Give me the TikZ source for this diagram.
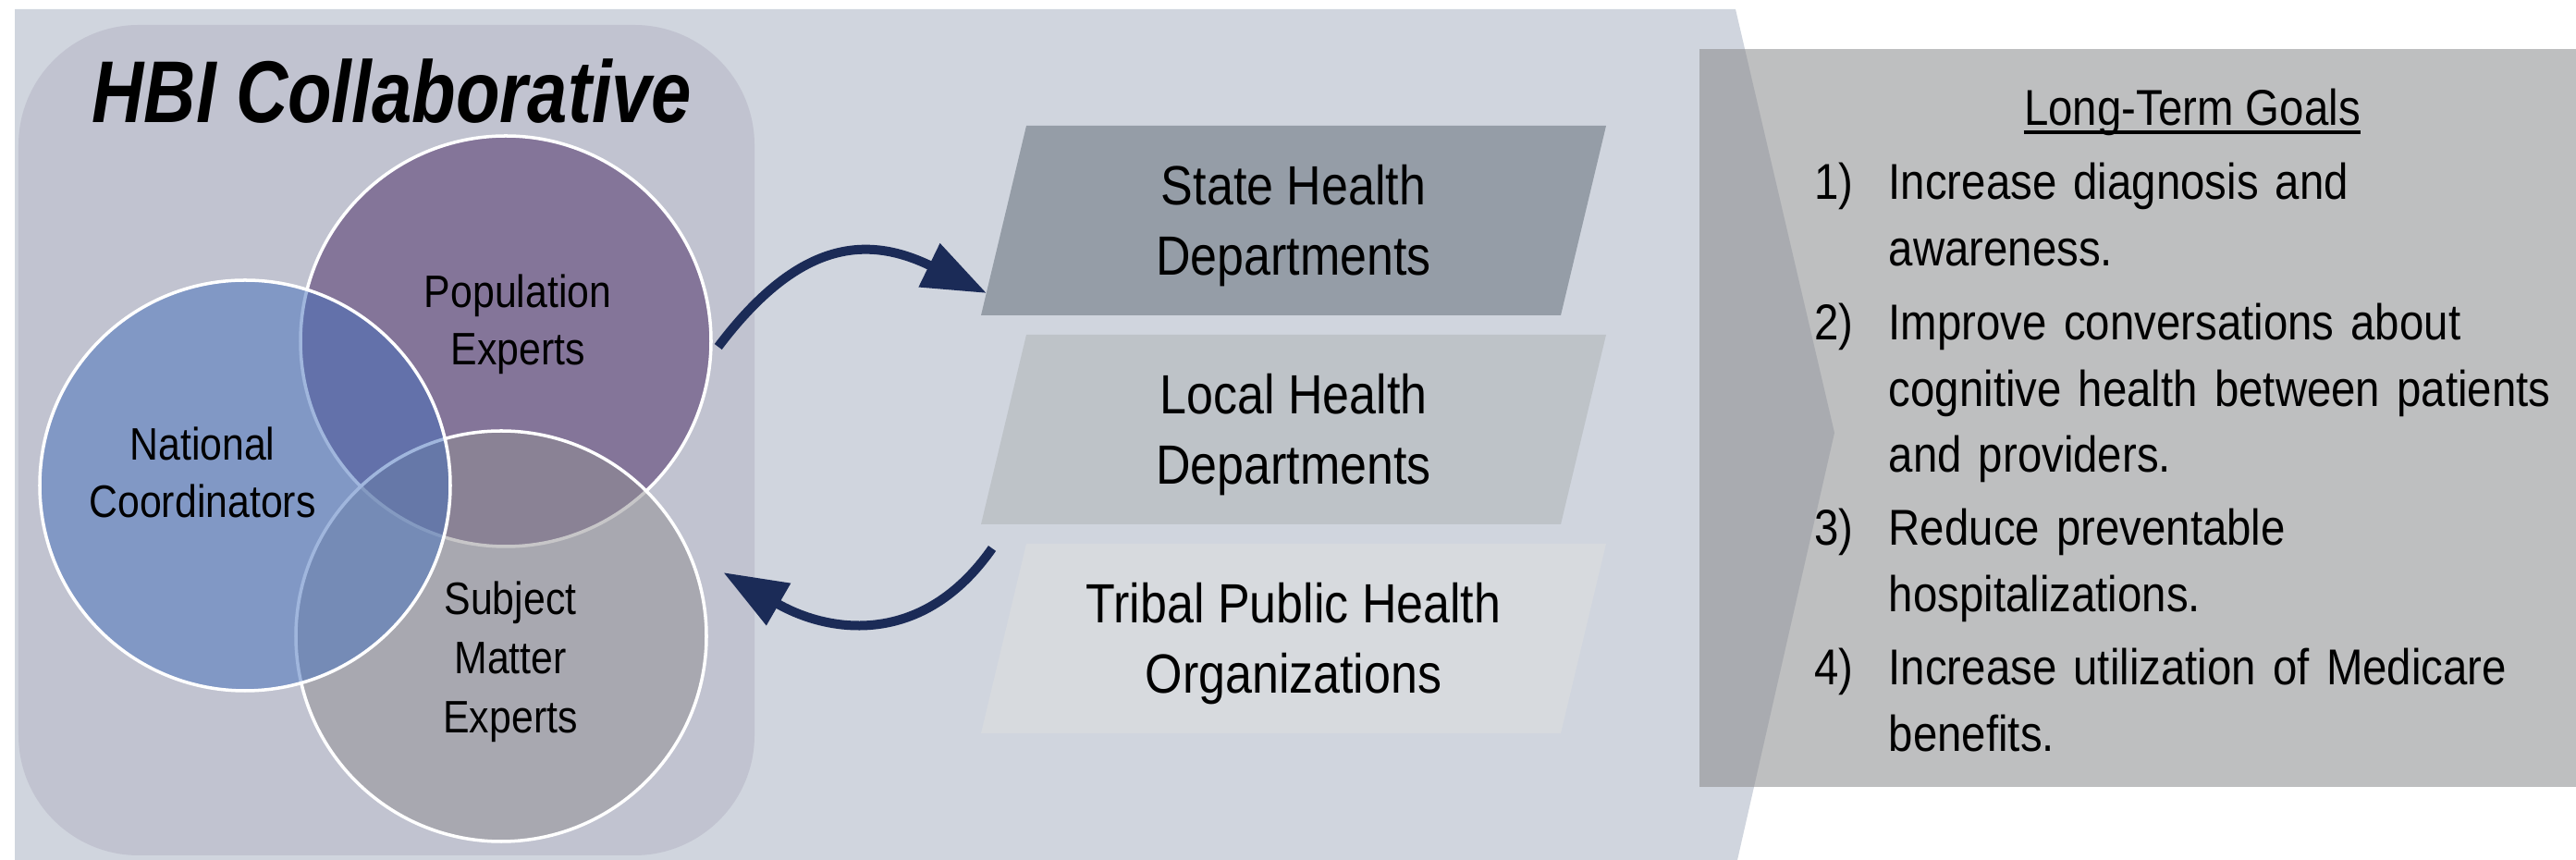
\documentclass[tikz,border=0pt]{standalone}
\usepackage{fontspec}
\setmainfont{Liberation Sans}[FakeStretch=0.87]
\newfontfamily\titlefont{Liberation Sans}[FakeStretch=0.82]
\usetikzlibrary{arrows.meta,calc}

\definecolor{bgblue}{RGB}{208,213,222}
\definecolor{hbibox}{RGB}{193,195,208}
\definecolor{popcol}{RGB}{73,41,100}
\definecolor{natcol}{RGB}{67,111,188}
\definecolor{smecol}{RGB}{145,143,146}
\definecolor{statecol}{RGB}{149,157,167}
\definecolor{localcol}{RGB}{190,195,200}
\definecolor{tribalcol}{RGB}{215,218,222}
\definecolor{goalcol}{RGB}{137,138,140}
\definecolor{navy}{RGB}{27,43,87}

% slanted department box: name, colour, y of centre, text
\newcommand{\agencybox}[4]{%
    \fill[#2] (10.61,#3-1.025) -- (16.88,#3-1.025) -- (17.37,#3+1.025) -- (11.10,#3+1.025) -- cycle;
    \node[agency] (#1) at (13.99,#3-0.06) {#4};}

\begin{document}
\begin{tikzpicture}[
    venn/.style={circle, minimum size=4.44cm, inner sep=0pt, draw=white, line width=1pt, fill opacity=0.5},
    venntext/.style={align=center, inner sep=0pt, font=\fontsize{14}{17.6}\selectfont},
    agency/.style={align=center, inner sep=0pt, font=\fontsize{17}{21.6}\selectfont},
    flow/.style={navy, line width=0.1cm, -{Triangle[length=0.69cm, width=0.5cm]}},
    goal/.style={anchor=base west, inner sep=0pt, text width=7.3cm, align=left,
        font=\fontsize{15.5}{20.3}\selectfont},
    goalnum/.style={anchor=base east, inner sep=0pt, font=\fontsize{15.5}{20.3}\selectfont}
]
    \useasboundingbox (0,0) rectangle (27.86,9.30);

    % Background chevron
    \fill[bgblue] (0.16,0) -- (0.16,9.20) -- (18.77,9.20) -- (19.84,4.62) -- (18.79,0) -- cycle;

    % Collaborative panel
    \fill[hbibox, rounded corners=1.3cm] (0.20,0.05) rectangle (8.16,9.03);
    \node[anchor=base, inner sep=0pt, font=\titlefont\bfseries\itshape\fontsize{27}{32}\selectfont]
        (hbi) at (4.24,7.97) {HBI Collaborative};

    % Venn circles
    \node[venn, fill=popcol] (pop) at (5.47,5.61) {};
    \node[venn, fill=smecol] (sme) at (5.42,2.42) {};
    \node[venn, fill=natcol] (nat) at (2.65,4.05) {};

    \node[venntext] (poptext) at (5.60,5.79) {Population\\Experts};
    \node[venntext] (nattext) at (2.19,4.19) {National\\Coordinators};
    \node[venntext, font=\fontsize{14}{18.2}\selectfont] (smetext) at (5.52,2.14) {Subject\\Matter\\Experts};

    % Health departments
    \agencybox{state}{statecol}{6.915}{State Health\\Departments}
    \agencybox{local}{localcol}{4.655}{Local Health\\Departments}
    \agencybox{tribal}{tribalcol}{2.395}{Tribal Public Health\\Organizations}

    % Arrows
    \draw[flow] ([shift={(0.06,-0.06)}]pop.east) to[out=53, in=154, looseness=1.25]
        ([shift={(-3.32,-0.725)}]state.center);
    \draw[flow] ([shift={(-3.26,-1.225)}]local.center) to[out=235, in=-30, looseness=1.15]
        ($(sme.center)+(16:2.5)$);

    % Long-term goals
    \fill[goalcol, opacity=0.55] (18.38,0.79) rectangle (27.86,8.77);
    \node[anchor=base, inner sep=0pt, font=\fontsize{15.5}{20.3}\selectfont]
        (goalhead) at (23.71,7.94) {Long-Term Goals};
    \draw[line width=0.9pt] ([yshift=-0.07cm]goalhead.base west) -- ([yshift=-0.07cm]goalhead.base east);

    \node[goalnum] (n1) at (20.05,7.14) {1)};
    \node[goal] (g1) at (20.42,7.14) {Increase diagnosis and\\awareness.};
    \node[goalnum] (n2) at (20.05,5.62) {2)};
    \node[goal] (g2) at (20.42,5.62) {Improve conversations about\\cognitive health between patients\\and providers.};
    \node[goalnum] (n3) at (20.05,3.40) {3)};
    \node[goal] (g3) at (20.42,3.40) {Reduce preventable\\hospitalizations.};
    \node[goalnum] (n4) at (20.05,1.89) {4)};
    \node[goal] (g4) at (20.42,1.89) {Increase utilization of Medicare\\benefits.};
\end{tikzpicture}
\end{document}
